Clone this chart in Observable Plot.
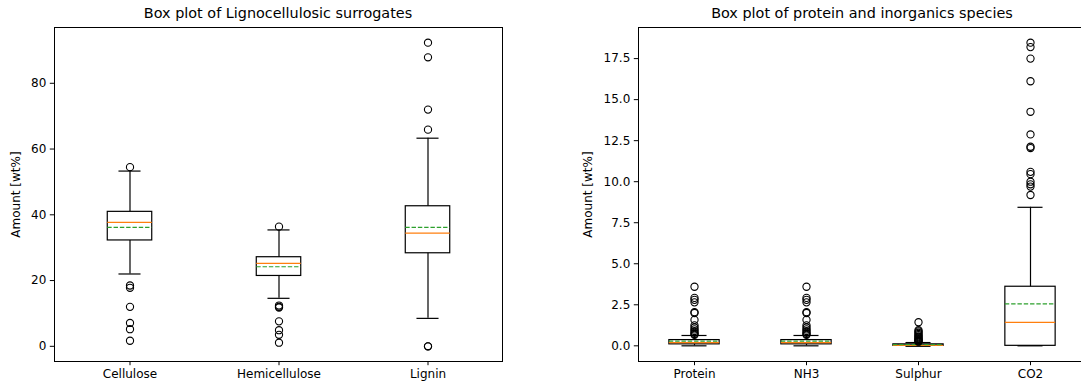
<!DOCTYPE html>
<html>
<head>
<meta charset="utf-8">
<script src="https://cdn.jsdelivr.net/npm/d3@7"></script>
<script src="https://cdn.jsdelivr.net/npm/@observablehq/plot@0.6"></script>
<style>
  html, body { margin: 0; padding: 0; background: #fff; }
  body { width: 1081px; height: 387px; overflow: hidden; position: relative; font-family: "DejaVu Sans", sans-serif; }
  .panel { position: absolute; top: 0; height: 387px; }
  .panel svg { max-width: none !important; display: block; }
  .title { position: absolute; top: 6px; font-size: 14.4px; line-height: 14.4px; text-align: center; color: #000; white-space: nowrap; }
</style>
</head>
<body>
<div id="left" class="panel" style="left:0px;width:502px"></div>
<div id="right" class="panel" style="left:540px;width:547px"></div>
<div class="title" style="left:54px;width:448px">Box plot of Lignocellulosic surrogates</div>
<div class="title" style="left:638px;width:448px">Box plot of protein and inorganics species</div>
<script>
// ---- Left panel: lignocellulosic surrogates ----
const leftCategories = ["Cellulose", "Hemicellulose", "Lignin"];
const leftQ1 = [32.2, 21.4, 28.3];
const leftMedian = [37.7, 25.2, 34.4];
const leftQ3 = [40.9, 27.1, 42.6];
const leftMean = [36.2, 24.2, 36.2];
const leftWhiskerLow = [22.0, 14.6, 8.5];
const leftWhiskerHigh = [53.3, 35.4, 63.3];
const leftOutliers = [
  [54.5, 18.5, 17.8, 12.0, 7.1, 5.2, 1.7],
  [36.4, 12.4, 12.0, 11.8, 7.6, 4.9, 3.5, 1.1],
  [92.35, 87.9, 72.0, 65.9, 0.0, 0.0]
];
const leftTicks = [0, 20, 40, 60, 80];

// ---- Right panel: protein and inorganics species ----
const rightCategories = ["Protein", "NH3", "Sulphur", "CO2"];
const rightQ1 = [0.09, 0.09, 0.0, 0.0];
const rightMedian = [0.2, 0.2, 0.02, 1.43];
const rightQ3 = [0.35, 0.35, 0.09, 3.6];
const rightMean = [0.29, 0.29, 0.07, 2.55];
const rightWhiskerLow = [0.0, 0.0, -0.03, 0.0];
const rightWhiskerHigh = [0.63, 0.63, 0.2, 8.44];
const rightOutliers = [
  [3.6, 2.92, 2.8, 2.65, 2.05, 2.0, 1.58, 1.25, 1.12, 1.0, 0.9, 0.8, 0.72, 0.67],
  [3.6, 2.92, 2.8, 2.65, 2.05, 2.0, 1.58, 1.25, 1.12, 1.0, 0.9, 0.8, 0.72, 0.67],
  [1.44, 0.95, 0.88, 0.8, 0.72, 0.65, 0.58, 0.52, 0.46, 0.41, 0.36, 0.32, 0.28, 0.25],
  [18.47, 18.2, 17.5, 16.12, 14.26, 12.88, 12.13, 12.05, 10.6, 10.46, 10.0, 9.84, 9.7, 9.19]
];
const rightTicks = [0, 2.5, 5, 7.5, 10, 12.5, 15, 17.5];

const yLabel = "Amount [wt%]";
const medianColor = "#ff7f0e";
const meanColor = "#2ca02c";

function boxPanel({categories, q1, median, q3, mean, wlo, whi, outliers, ticks, tickFormat,
                   width, marginLeft, marginRight, boxFrac, labelOffset}) {
  const stats = categories.map((c, i) => ({cat: c, q1: q1[i], median: median[i], q3: q3[i],
    mean: mean[i], lo: wlo[i], hi: whi[i]}));
  const outs = categories.flatMap((c, i) => outliers[i].map(v => ({cat: c, v})));
  const all = [...wlo, ...whi, ...outliers.flat()];
  const lo = d3.min(all), hi = d3.max(all), pad = (hi - lo) * 0.05;
  const height = 387, marginTop = 27, marginBottom = 26;
  const plotW = width - marginLeft - marginRight;
  const band = plotW / categories.length;
  const boxW = band * boxFrac;
  const boxInset = (band - boxW) / 2;
  const capInset = (band - boxW / 2) / 2;
  return Plot.plot({
    width, height, marginLeft, marginRight, marginTop, marginBottom,
    style: {fontFamily: "DejaVu Sans, sans-serif", fontSize: "12px", color: "#000", background: "transparent", overflow: "visible", maxWidth: "none"},
    x: {type: "band", domain: categories, padding: 0, label: null},
    y: {domain: [lo - pad, hi + pad], label: null},
    marks: [
      Plot.axisX({tickSize: 4.2, tickPadding: 4, stroke: "#000", label: null}),
      Plot.axisY({ticks, tickFormat, tickSize: 4.2, tickPadding: 4, stroke: "#000",
        label: yLabel, labelAnchor: "center", labelArrow: "none", labelOffset}),
      Plot.frame({stroke: "#000", strokeWidth: 1}),
      // whiskers
      Plot.ruleX(stats, {x: "cat", y1: "q3", y2: "hi", stroke: "#000", strokeWidth: 1.2}),
      Plot.ruleX(stats, {x: "cat", y1: "lo", y2: "q1", stroke: "#000", strokeWidth: 1.2}),
      // caps
      Plot.tickY(stats, {x: "cat", y: "hi", stroke: "#000", strokeWidth: 1.2, insetLeft: capInset, insetRight: capInset}),
      Plot.tickY(stats, {x: "cat", y: "lo", stroke: "#000", strokeWidth: 1.2, insetLeft: capInset, insetRight: capInset}),
      // box
      Plot.barY(stats, {x: "cat", y1: "q1", y2: "q3", fill: "none", stroke: "#000", strokeWidth: 1.2,
        insetLeft: boxInset, insetRight: boxInset}),
      // median
      Plot.tickY(stats, {x: "cat", y: "median", stroke: medianColor, strokeWidth: 1.2, insetLeft: boxInset, insetRight: boxInset}),
      // mean
      Plot.tickY(stats, {x: "cat", y: "mean", stroke: meanColor, strokeWidth: 1.2, strokeDasharray: "4.4,1.9",
        insetLeft: boxInset, insetRight: boxInset}),
      // outliers
      Plot.dot(outs, {x: "cat", y: "v", r: 3.6, stroke: "#000", strokeWidth: 1.1, fill: "none"})
    ]
  });
}

document.getElementById("left").append(boxPanel({
  categories: leftCategories, q1: leftQ1, median: leftMedian, q3: leftQ3, mean: leftMean,
  wlo: leftWhiskerLow, whi: leftWhiskerHigh, outliers: leftOutliers,
  ticks: leftTicks, tickFormat: d => d3.format("d")(d),
  width: 502, marginLeft: 54, marginRight: 0, boxFrac: 0.3, labelOffset: 43
}));
document.getElementById("right").append(boxPanel({
  categories: rightCategories, q1: rightQ1, median: rightMedian, q3: rightQ3, mean: rightMean,
  wlo: rightWhiskerLow, whi: rightWhiskerHigh, outliers: rightOutliers,
  ticks: rightTicks, tickFormat: d => d.toFixed(1),
  width: 547, marginLeft: 98, marginRight: 0.2, boxFrac: 0.45, labelOffset: 55
}));
</script>
</body>
</html>
